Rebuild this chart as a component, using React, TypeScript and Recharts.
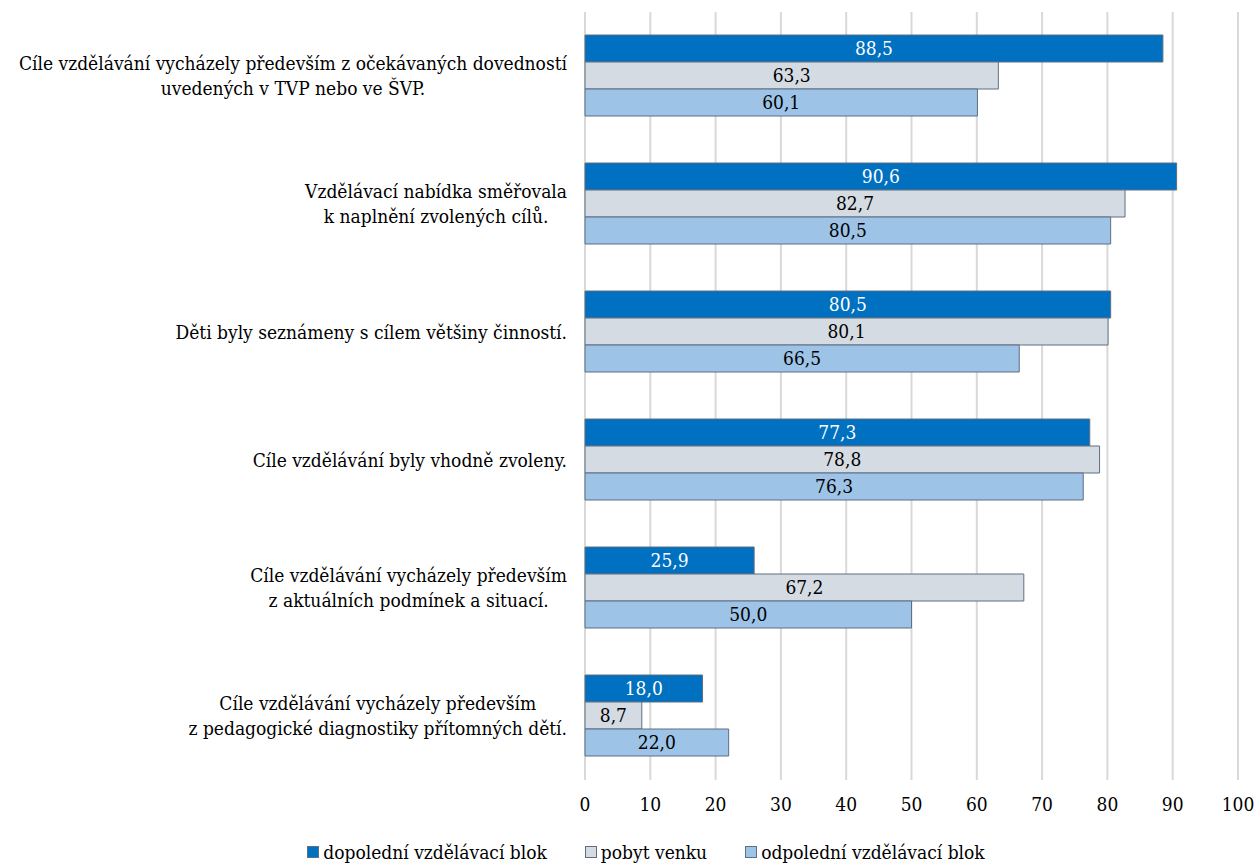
import { Bar, BarChart, CartesianGrid, LabelList, Legend, XAxis, YAxis } from 'recharts';

const categories = [
	'Cíle vzdělávání vycházely především z očekávaných dovedností\nuvedených v TVP nebo ve ŠVP.',
	'Vzdělávací nabídka směřovala\nk naplnění zvolených cílů.',
	'Děti byly seznámeny s cílem většiny činností.',
	'Cíle vzdělávání byly vhodně zvoleny.',
	'Cíle vzdělávání vycházely především\nz aktuálních podmínek a situací.',
	'Cíle vzdělávání vycházely především\nz pedagogické diagnostiky přítomných dětí.',
];

const dopoledni = [88.5, 90.6, 80.5, 77.3, 25.9, 18.0];
const pobytVenku = [63.3, 82.7, 80.1, 78.8, 67.2, 8.7];
const odpoledni = [60.1, 80.5, 66.5, 76.3, 50.0, 22.0];

const xTicks = [0, 10, 20, 30, 40, 50, 60, 70, 80, 90, 100];

const seriesNames = ['dopolední vzdělávací blok', 'pobyt venku', 'odpolední vzdělávací blok'];

const data = categories.map((name, i) => ({
	name,
	dop: dopoledni[i],
	pob: pobytVenku[i],
	odp: odpoledni[i],
}));

const FONT = '"DejaVu Serif Condensed", "DejaVu Serif"';
const FONT_SIZE = 19;
const BORDER = '#5f6f82';

const series = [
	{ key: 'dop', fill: '#0070C0', label: '#ffffff' },
	{ key: 'pob', fill: '#D5DBE3', label: '#000000' },
	{ key: 'odp', fill: '#9DC3E6', label: '#000000' },
];

let measureCtx: CanvasRenderingContext2D | null = null;
const textWidth = (s: string) => {
	if (!measureCtx) {
		measureCtx = document.createElement('canvas').getContext('2d');
	}
	if (!measureCtx) return s.length * 8;
	measureCtx.font = `${FONT_SIZE}px ${FONT}`;
	return measureCtx.measureText(s).width;
};

const fmt = (v: any) => Number(v).toFixed(1).replace('.', ',');

// category labels: lines centred on each other, block right-aligned to the axis
const CategoryTick = (props: any) => {
	const { x, y, payload } = props;
	const lines: string[] = String(payload.value).split('\n');
	const maxW = Math.max(...lines.map(textWidth));
	const cx = x - 10 - maxW / 2;
	const lh = 25;
	const startY = y - ((lines.length - 1) * lh) / 2;
	return (
		<g>
			{lines.map((l, i) => (
				<text
					key={i}
					x={cx}
					y={startY + i * lh}
					dy='0.35em'
					textAnchor='middle'
					style={{ fontFamily: FONT, fontSize: FONT_SIZE }}
					fill='#000'
				>
					{l}
				</text>
			))}
		</g>
	);
};

const LegendContent = () => (
	<div
		style={{
			display: 'flex',
			justifyContent: 'center',
			alignItems: 'center',
			paddingLeft: 54,
			height: 26,
			fontFamily: FONT,
			fontSize: FONT_SIZE,
			color: '#000',
		}}
	>
		{series.map((s, i) => (
			<div key={s.key} style={{ display: 'flex', alignItems: 'center', marginLeft: i ? 38 : 0 }}>
				<span
					style={{
						display: 'inline-block',
						width: 10,
						height: 10,
						background: s.fill,
						border: `1px solid ${BORDER}`,
						marginRight: 4,
					}}
				/>
				<span>{seriesNames[i]}</span>
			</div>
		))}
	</div>
);

export default function App() {
	return (
		<div style={{ position: 'absolute', left: 0, top: 0, background: '#fff', fontFamily: FONT }}>
			<BarChart
				width={1257}
				height={865}
				data={data}
				layout='vertical'
				margin={{ top: 12, right: 19, bottom: 0, left: 0 }}
				barCategoryGap={23}
				barGap={0}
				style={{ fontFamily: FONT }}
			>
				<CartesianGrid horizontal={false} stroke='#d9d9d9' strokeWidth={2} />
				<XAxis
					type='number'
					domain={[0, 100]}
					ticks={xTicks}
					axisLine={false}
					tickLine={false}
					tickMargin={12}
					height={59}
					tick={{ style: { fontFamily: FONT }, fontSize: FONT_SIZE, fill: '#000' }}
				/>
				<YAxis
					type='category'
					dataKey='name'
					width={585}
					axisLine={false}
					tickLine={false}
					tick={<CategoryTick />}
					interval={0}
				/>
				<Legend verticalAlign='bottom' content={<LegendContent />} />
				{series.map((s, i) => (
					<Bar
						key={s.key}
						dataKey={s.key}
						name={seriesNames[i]}
						fill={s.fill}
						stroke={BORDER}
						strokeWidth={1}
						isAnimationActive={false}
					>
						<LabelList
							dataKey={s.key}
							position='center'
							formatter={fmt}
							fill={s.label}
							style={{ fontFamily: FONT }}
							fontSize={FONT_SIZE}
						/>
					</Bar>
				))}
			</BarChart>
		</div>
	);
}
